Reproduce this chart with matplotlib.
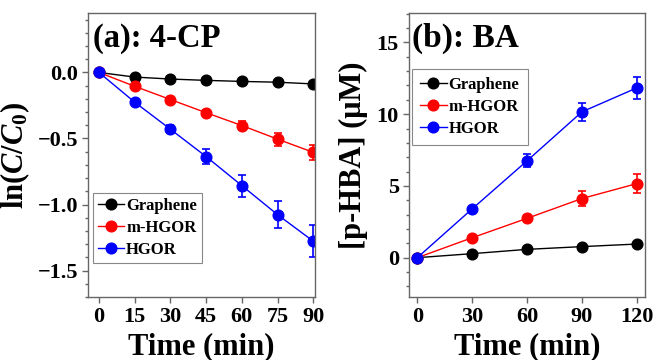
import matplotlib
matplotlib.use("Agg")
import matplotlib.pyplot as plt
from matplotlib.ticker import MultipleLocator

plt.rcParams['font.family'] = ['Liberation Serif', 'DejaVu Serif']
plt.rcParams['font.weight'] = 'bold'
plt.rcParams['mathtext.fontset'] = 'custom'
plt.rcParams['mathtext.rm'] = 'Liberation Serif:bold'
plt.rcParams['mathtext.it'] = 'Liberation Serif:italic:bold'
plt.rcParams['mathtext.bf'] = 'Liberation Serif:bold'

# ---- data panel (a): 4-CP ----
t_a = [0, 15, 30, 45, 60, 75, 90]
a_graphene = [0, -0.035, -0.05, -0.06, -0.068, -0.074, -0.087]
a_graphene_err = [0, 0.005, 0.005, 0.005, 0.005, 0.005, 0.01]
a_mhgor = [0, -0.105, -0.205, -0.305, -0.402, -0.505, -0.605]
a_mhgor_err = [0, 0.01, 0.015, 0.02, 0.035, 0.05, 0.058]
a_hgor = [0, -0.225, -0.43, -0.637, -0.857, -1.077, -1.278]
a_hgor_err = [0, 0.015, 0.03, 0.057, 0.083, 0.10, 0.12]

# ---- data panel (b): BA ----
t_b = [0, 30, 60, 90, 120]
b_graphene = [0, 0.28, 0.58, 0.77, 0.95]
b_graphene_err = [0, 0.05, 0.05, 0.05, 0.05]
b_mhgor = [0, 1.39, 2.74, 4.12, 5.16]
b_mhgor_err = [0, 0.1, 0.25, 0.54, 0.67]
b_hgor = [0, 3.40, 6.75, 10.16, 11.83]
b_hgor_err = [0, 0.1, 0.44, 0.64, 0.77]

labels = ['Graphene', 'm-HGOR', 'HGOR']
colors = ['black', '#ff0000', '#0000ff']

fig = plt.figure(figsize=(6.54, 3.60), dpi=100)
ax1 = fig.add_axes([88/654, 1-297/360, 227/654, 284/360])
ax2 = fig.add_axes([408.7/654, 1-297/360, 236.3/654, 284/360])

frame_col = '#666666'

def style(ax):
    for s in ax.spines.values():
        s.set_color(frame_col)
        s.set_linewidth(1.0)
    ax.tick_params(which='both', direction='out', top=False, right=False,
                   colors='black', labelsize=16, pad=3)
    ax.tick_params(which='major', length=4, width=1, color=frame_col)
    ax.tick_params(which='minor', length=2.5, width=1, color=frame_col)
    for lab in ax.get_xticklabels() + ax.get_yticklabels():
        lab.set_fontweight('bold')

def plot_series(ax, t, ys, errs):
    handles = []
    for y, e, c, l in zip(ys, errs, colors, labels):
        cont = ax.errorbar(t, y, yerr=e, color=c, ecolor=c, marker='o', markersize=7.7,
                           linewidth=1.0, elinewidth=1.2, capsize=3, capthick=1.2, label=l)
        handles.append(cont[0])
    return handles

h1 = plot_series(ax1, t_a, [a_graphene, a_mhgor, a_hgor], [a_graphene_err, a_mhgor_err, a_hgor_err])
ax1.set_xlim(-4.6, 90.7)
ax1.set_ylim(-1.7, 0.45)
ax1.set_xticks(t_a)
ax1.set_yticks([-1.5, -1.0, -0.5, 0.0])
ax1.yaxis.set_minor_locator(MultipleLocator(0.1))
style(ax1)
ax1.set_xlabel('Time (min)', fontsize=22, fontweight='bold', labelpad=4)
ax1.set_ylabel(r'ln($\mathit{C}$/$\mathit{C}_{\mathrm{0}}$)', fontsize=22, fontweight='bold', labelpad=4)
ax1.text(0.02, 0.965, '(a): 4-CP', transform=ax1.transAxes, fontsize=23.5,
         fontweight='bold', va='top', ha='left')
leg1 = ax1.legend(h1, labels, loc='lower left', bbox_to_anchor=(0.021, 0.12), borderaxespad=0,
                  fontsize=12, handlelength=1.6, handletextpad=0.1, labelspacing=0.35,
                  borderpad=0.3, fancybox=False, edgecolor='#888888', framealpha=1)
leg1.get_frame().set_linewidth(0.8)

h2 = plot_series(ax2, t_b, [b_graphene, b_mhgor, b_hgor], [b_graphene_err, b_mhgor_err, b_hgor_err])
ax2.set_xlim(-4.7, 124.5)
ax2.set_ylim(-2.74, 17.05)
ax2.set_xticks(t_b)
ax2.set_yticks([0, 5, 10, 15])
ax2.yaxis.set_minor_locator(MultipleLocator(1))
style(ax2)
ax2.set_xlabel('Time (min)', fontsize=22, fontweight='bold', labelpad=4)
ax2.set_ylabel('[p-HBA] (μM)', fontsize=22, fontweight='bold', labelpad=6)
ax2.text(0.013, 0.965, '(b): BA', transform=ax2.transAxes, fontsize=24,
         fontweight='bold', va='top', ha='left')
leg2 = ax2.legend(h2, labels, loc='upper left', bbox_to_anchor=(0.013, 0.803), borderaxespad=0,
                  fontsize=12, handlelength=1.6, handletextpad=0.1, labelspacing=0.35,
                  borderpad=0.5, fancybox=False, edgecolor='#888888', framealpha=1)
leg2.get_frame().set_linewidth(0.8)

fig.savefig('out.png', dpi=100)
